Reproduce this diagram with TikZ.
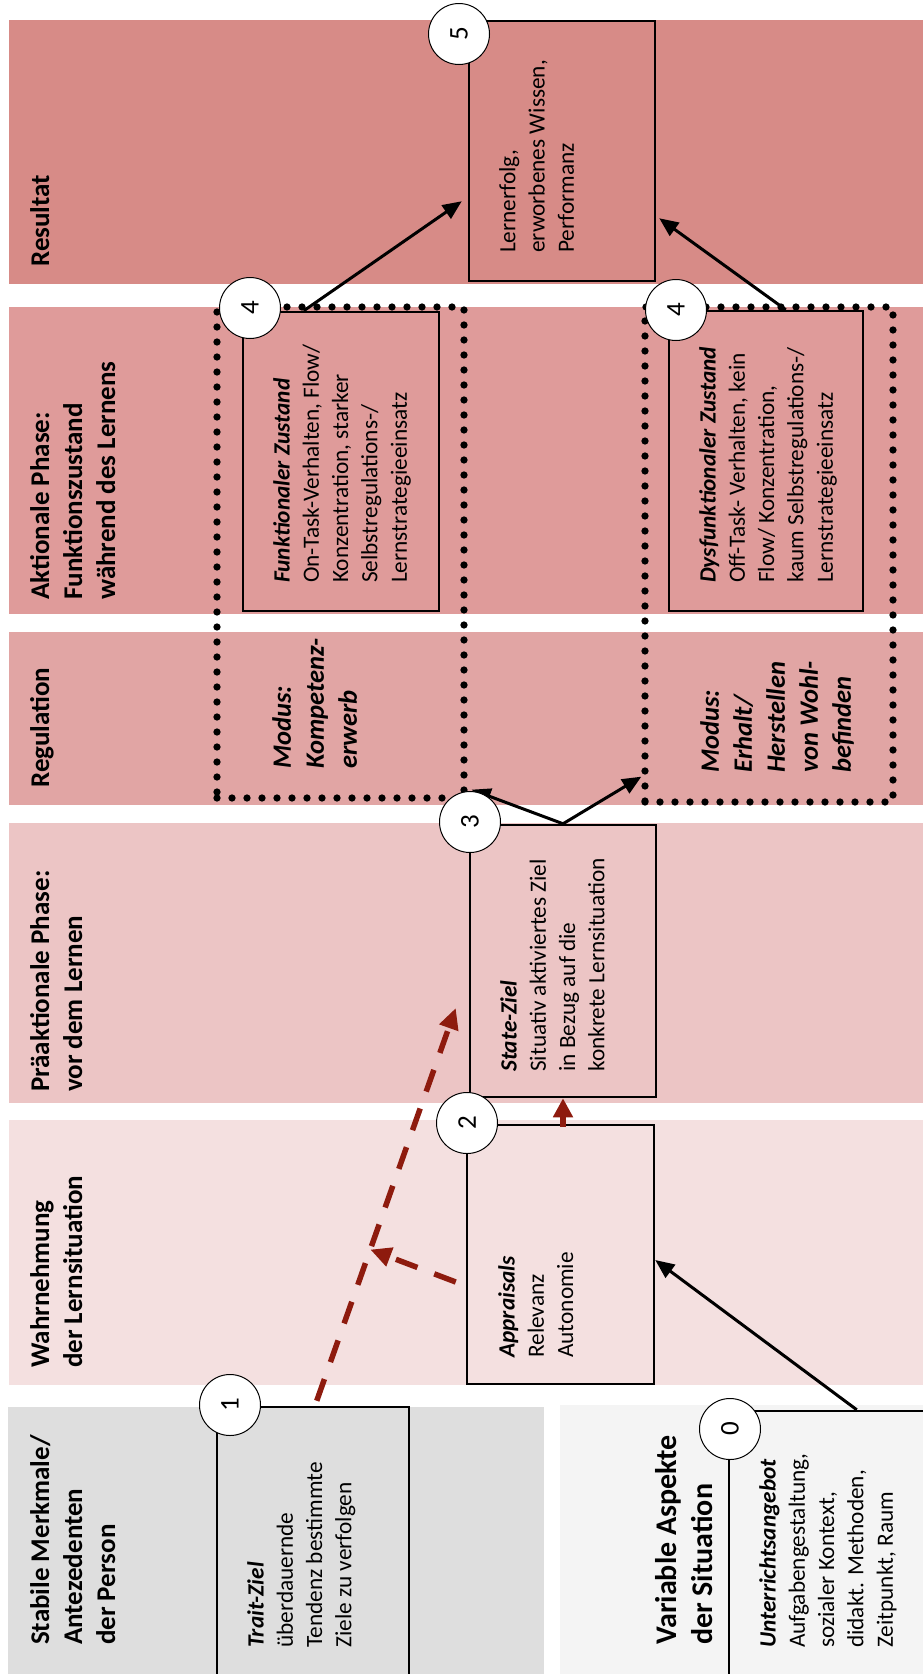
\documentclass[tikz,border=0pt]{standalone}
\usepackage{fontspec}
\setmainfont{Carlito}
\usetikzlibrary{arrows.meta,calc}
\definecolor{resband}{HTML}{D78B87}
\definecolor{aktband}{HTML}{DF9B9A}
\definecolor{regband}{HTML}{E1A5A4}
\definecolor{praeband}{HTML}{ECC5C5}
\definecolor{wahrband}{HTML}{F4E0E0}
\definecolor{stabband}{HTML}{DEDEDE}
\definecolor{varband}{HTML}{F4F4F4}
\definecolor{darkred}{HTML}{8E1B0E}
\tikzset{
  box/.style={draw=black, line width=2.5pt, inner sep=0pt},
  dotframe/.style={draw=black, line width=7.3pt, line cap=round, dash pattern=on 0pt off 15pt, inner sep=0pt},
  num/.style={circle, draw=black, line width=1pt, fill=white, minimum size=61pt, inner sep=0pt, font=\fontsize{27}{32}\selectfont, rotate=90},
  heading/.style={rotate=90, anchor=north west, inner sep=0pt, align=left, font=\fontsize{27}{33}\selectfont\bfseries},
  modus/.style={rotate=90, anchor=north west, inner sep=0pt, align=left, font=\fontsize{26.5}{33}\selectfont\bfseries\itshape},
  bodytext/.style={rotate=90, anchor=north west, inner sep=0pt, align=left, font=\fontsize{23.3}{29.3}\selectfont},
  flow/.style={line width=3pt, -{Triangle[length=19pt,width=16pt]}},
  redflow/.style={draw=darkred, line width=5.5pt, -{Triangle[length=21pt,width=19pt]}},
  reddash/.style={dash pattern=on 23pt off 18pt},
}
\begin{document}
\begin{tikzpicture}[x=1pt, y=-1pt]
\useasboundingbox (0,0) rectangle (923,1674);
\clip (0,0) rectangle (923,1674);

% phase bands
\fill[resband]  (9,20)    rectangle (923,284);
\fill[aktband]  (9,307)   rectangle (923,614);
\fill[regband]  (9,632)   rectangle (923,805);
\fill[praeband] (9,823)   rectangle (923,1103);
\fill[wahrband] (9,1120)  rectangle (923,1385);
\fill[stabband] (8,1407)  rectangle (544,1674);
\fill[varband]  (560,1405) rectangle (923,1674);

% band headings
\node[heading] (h5) at (30,267) {Resultat};
\node[heading] (h4) at (30,600) {Aktionale Phase:\\Funktionszustand\\während des Lernens};
\node[heading] (hreg) at (30,788) {Regulation};
\node[heading] (h3) at (30,1092) {Präaktionale Phase:\\vor dem Lernen};
\node[heading] (h2) at (30,1368) {Wahrnehmung\\der Lernsituation};
\node[heading] (h1) at (30,1645) {Stabile Merkmale/\\Antezedenten\\der Person};
\node[heading, font=\fontsize{30}{36}\selectfont\bfseries] (h0) at (655,1645) {Variable Aspekte\\der Situation};

% regulation modes
\node[dotframe, minimum width=247pt, minimum height=491pt] (dL) at (340.5,552.5) {};
\node[dotframe, minimum width=248pt, minimum height=495pt] (dR) at (769,554.5) {};
\node[modus] (mA) at (272,769) {Modus:\\Kompetenz-\\erwerb};
\node[modus] (mB) at (700,773) {Modus:\\Erhalt/\\Herstellen\\von Wohl-\\befinden};

% boxes
\node[box, minimum width=186pt, minimum height=260pt] (b5)  at (562,151) {};
\node[box, minimum width=196pt, minimum height=299pt] (b4L) at (341,461.5) {};
\node[box, minimum width=194pt, minimum height=300pt] (b4R) at (766,461) {};
\node[box, minimum width=186pt, minimum height=272pt] (b3)  at (563,961) {};
\node[box, minimum width=187pt, minimum height=259pt] (b2)  at (560.5,1254.5) {};
\node[box, minimum width=192pt, minimum height=303pt] (b1)  at (313,1558.5) {};
\node[box, minimum width=231pt, minimum height=299pt] (b0)  at (844.5,1560.5) {};

% box texts
\node[bodytext] (t5) at (499,253) {Lernerfolg,\\erworbenes Wissen,\\Performanz};
\node[bodytext] (t4a) at (273,583) {\textbf{\textit{Funktionaler Zustand}}\\On-Task-Verhalten, Flow/\\Konzentration, starker\\Selbstregulations-/\\Lernstrategieeinsatz};
\node[bodytext] (t4b) at (699,583) {\textbf{\textit{Dysfunktionaler Zustand}}\\Off-Task- Verhalten, kein\\Flow/ Konzentration,\\kaum Selbstregulations-/\\Lernstrategieeinsatz};
\node[bodytext] (t3) at (500,1072) {\textbf{\textit{State-Ziel}}\\Situativ aktiviertes Ziel\\in Bezug auf die\\konkrete Lernsituation};
\node[bodytext] (t2) at (498,1358) {\textbf{\textit{Appraisals}}\\Relevanz\\Autonomie};
\node[bodytext] (t1) at (247,1648) {\textbf{\textit{Trait-Ziel}}\\überdauernde\\Tendenz bestimmte\\Ziele zu verfolgen};
\node[bodytext] (t0) at (759,1648) {\textbf{\textit{Unterrichtsangebot}}\\Aufgabengestaltung,\\sozialer Kontext,\\didakt. Methoden,\\Zeitpunkt, Raum};

% black connectors
\draw[flow] ($(b4L.north west)+(62,0)$) -- ($(b5.south west)+(-6,-81)$);
\draw[flow] ($(b4R.north west)+(118,0)$) -- ($(b5.south east)+(3,-64)$);
\draw[flow] (b3.north) -- ($(dL.south east)+(4,-12)$);
\draw[flow] (b3.north) -- ($(dR.south west)+(0,-29)$);
\draw[flow] ($(b0.north west)+(129,0)$) -- ($(b2.east)+(0,5.5)$);

% red connectors
\coordinate (r1s) at ($(b1.north west)+(101,-5)$);
\coordinate (r1e) at ($(b3.west)+(-13,47)$);
\coordinate (rj) at ($(r1s)!0.385!(r1e)$);
\draw[redflow, reddash] (r1s) -- (r1e);
\draw[redflow, reddash] ($(b2.west)+(-10,27.5)$) -- (rj);
\draw[redflow, line width=6pt, -{Triangle[length=19pt,width=19pt]}] ($(b2.north)+(2.5,3)$) -- (b3.south);

% step numbers
\node[num] (n5) at (459,34) {5};
\node[num] (n4a) at (250,308) {4};
\node[num] (n4b) at (676,310) {4};
\node[num] (n3) at (470,822) {3};
\node[num] (n2) at (467,1123) {2};
\node[num] (n1) at (230,1405) {1};
\node[num] (n0) at (730,1429) {0};
\end{tikzpicture}
\end{document}
